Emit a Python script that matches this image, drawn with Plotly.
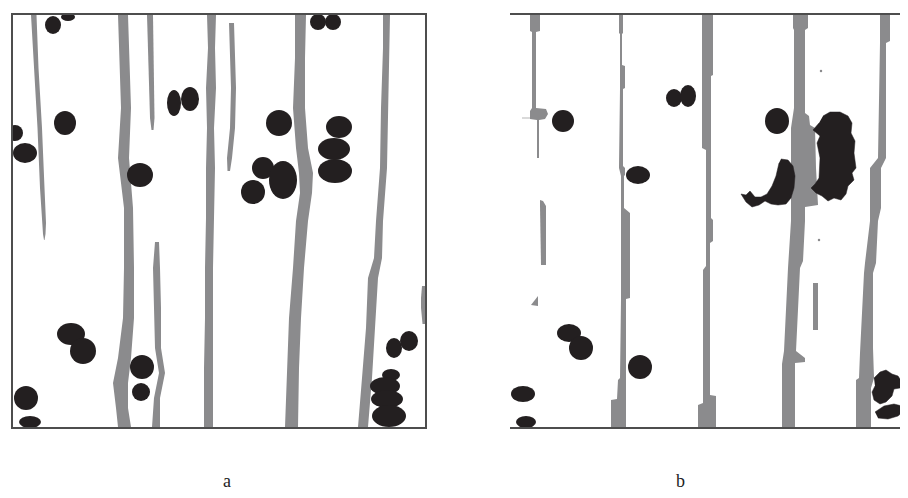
import plotly.graph_objects as go

W, H = 908, 498
GRAY = "#8b8b8d"
BLACK = "#231f20"
BORDER = "#4d4d4d"

# ---------------- panel a : fibre strips (y, left edge, right edge) ----------------
A1_Y = [7, 60, 120, 180, 215, 226, 232]
A1_L = [23, 26, 29.5, 32, 34, 35, 36]
A1_R = [28.5, 30.5, 34, 36.5, 38, 37.5, 36.5]

A2_Y = [7, 60, 100, 150, 200, 260, 310, 350, 375, 400, 419]
A2_L = [110, 112, 113, 110, 116, 116, 115, 110, 105, 108, 110]
A2_R = [120, 122, 123, 121, 125, 126, 126, 123, 120, 120, 123]

A3_Y = [7, 40, 80, 110, 122]
A3_L = [139, 140, 141.5, 142, 143.5]
A3_R = [145, 145, 146, 146.5, 145.5]

A4_Y = [7, 40, 80, 120, 160, 210, 260, 310, 360, 419]
A4_L = [199, 200, 198, 199, 198, 198, 197, 197, 196, 196]
A4_R = [208, 207, 208, 206, 207, 206, 205, 205, 205, 205]

A5_Y = [15, 40, 80, 120, 150, 163]
A5_L = [221, 222, 223, 222, 219, 219.5]
A5_R = [226, 227, 228, 227, 224, 222]

A6_Y = [7, 50, 100, 140, 165, 185, 213, 260, 310, 360, 419]
A6_L = [287, 287, 285, 288, 291, 292, 288, 285, 281, 279, 277]
A6_R = [298, 297, 297, 300, 305, 304, 300, 296, 293, 291, 290]

A7_Y = [7, 40, 100, 160, 213, 250, 270, 320, 370, 419]
A7_L = [375, 375, 373, 372, 368, 366, 360, 358, 354, 350]
A7_R = [382, 381, 380, 379, 375, 374, 370, 367, 364, 360]

A8_Y = [278, 290, 300, 310, 316]
A8_L = [414, 413, 413, 413.5, 414.5]
A8_R = [417, 417, 417, 417, 417]

A9_Y = [234, 260, 300, 340, 365, 390, 419]
A9_L = [147, 145, 146, 147, 151, 146, 144]
A9_R = [151, 152, 153, 153, 157, 152, 152]

STRIPS_A = [(A1_Y, A1_L, A1_R), (A2_Y, A2_L, A2_R), (A3_Y, A3_L, A3_R),
            (A4_Y, A4_L, A4_R), (A5_Y, A5_L, A5_R), (A6_Y, A6_L, A6_R),
            (A7_Y, A7_L, A7_R), (A8_Y, A8_L, A8_R), (A9_Y, A9_L, A9_R)]

# ---------------- panel a : black particles (centre x, centre y, radius x, radius y) ----------------
BLOB_A_X = [45, 60, 57, 7, 17, 166, 182, 132, 310, 325, 271, 331, 326, 327, 255, 275, 245,
            63, 75, 134, 133, 18, 22, 386, 401, 383, 377, 379, 381]
BLOB_A_Y = [17, 9, 115, 125, 145, 95, 91, 167, 14, 14, 115, 119, 141, 163, 160, 172, 184,
            326, 343, 359, 384, 390, 414, 340, 333, 367, 378, 391, 408]
BLOB_A_RX = [8, 7, 11, 8, 12, 7, 9, 13, 8, 8, 13, 13, 16, 17, 11, 14, 12,
             14, 13, 12, 9, 12, 11, 8, 9, 9, 15, 16, 17]
BLOB_A_RY = [9, 4, 12, 8, 10, 13, 12, 12, 8, 8, 13, 11, 11, 12, 11, 19, 12,
             11, 13, 12, 9, 12, 6, 10, 10, 6, 9, 9, 11]

# ---------------- panel b : blocky fibre strips (outline x, outline y) ----------------
B1_X = [522, 532, 532, 528, 528, 538, 540, 537, 531, 531, 529, 529, 522, 522, 524, 524, 522]
B1_Y = [6, 6, 23, 24, 100, 101, 106, 111, 112, 150, 150, 112, 111, 103, 100, 24, 23]

B1L_X = [532, 535, 538, 538, 533, 532]
B1L_Y = [192, 193, 198, 257, 257, 198]

B1T_X = [523, 530, 530]
B1T_Y = [297, 288, 298]

B2_X = [611, 615, 615, 614, 614, 617, 617, 615, 615, 617, 617, 616, 616, 622, 622, 618, 618,
        603, 603, 609, 610, 612, 613, 613, 613, 611, 611, 612, 612, 612, 611]
B2_Y = [6, 6, 25, 26, 57, 58, 80, 81, 158, 160, 167, 168, 200, 205, 290, 291, 419,
        419, 392, 391, 372, 370, 292, 205, 168, 160, 158, 81, 57, 26, 25]

B3_X = [694, 705, 705, 703, 703, 705, 705, 702, 702, 708, 708,
        690, 690, 695, 695, 698, 698, 694]
B3_Y = [6, 6, 67, 68, 210, 212, 233, 235, 387, 388, 419,
        419, 397, 395, 262, 258, 142, 140]

B4_X = [785, 800, 800, 797, 797, 801, 802, 807, 808, 810, 810, 797, 797, 795, 792, 788, 797, 797, 787, 787,
        774, 774, 776, 780, 783, 783, 786, 786, 785]
B4_Y = [6, 6, 20, 22, 105, 108, 117, 120, 160, 190, 197, 199, 213, 253, 260, 343, 350, 354, 355, 419,
        419, 356, 343, 260, 213, 120, 100, 22, 20]

B5_X = [872, 882, 882, 878, 878, 873, 873, 870, 868, 865, 865, 866, 863, 863,
        848, 848, 851, 852, 856, 857, 862, 862, 870, 872]
B5_Y = [6, 6, 33, 35, 150, 160, 200, 213, 255, 265, 340, 370, 380, 419,
        419, 372, 370, 345, 265, 255, 213, 160, 150, 35]

B6_X = [805, 810, 810, 805]
B6_Y = [275, 275, 322, 322]

STRIPS_B = [(B1_X, B1_Y), (B1L_X, B1L_Y), (B1T_X, B1T_Y), (B2_X, B2_Y), (B3_X, B3_Y),
            (B4_X, B4_Y), (B5_X, B5_Y), (B6_X, B6_Y)]

# ---------------- panel b : black particles ----------------
BLOB_B_X = [555, 666, 680, 630, 769, 561, 573, 632, 515, 518]
BLOB_B_Y = [113, 90, 88, 167, 113, 325, 340, 359, 386, 414]
BLOB_B_RX = [11, 8, 8, 12, 12, 12, 12, 12, 12, 10]
BLOB_B_RY = [11, 9, 11, 9, 13, 9, 12, 12, 8, 6]

# irregular particles in panel b (outline x, outline y)
BIG_X = [815, 822, 832, 840, 844, 843, 847, 846, 848, 844, 846, 840, 838, 833, 826, 820, 814, 808, 803,
         807, 811, 812, 809, 812, 805, 811]
BIG_Y = [108, 104, 104, 108, 115, 125, 133, 145, 160, 165, 172, 178, 186, 192, 190, 193, 188, 185, 180,
         176, 170, 150, 135, 128, 122, 115]

CRES_X = [773, 780, 785, 787, 786, 783, 778, 770, 763, 757, 751, 744, 738, 733, 738, 742, 747, 753, 759,
          764, 768, 770, 771]
CRES_Y = [151, 152, 158, 168, 180, 190, 196, 197, 196, 193, 197, 199, 194, 186, 187, 183, 189, 189, 186,
          178, 168, 160, 155]

RB1_X = [866, 872, 878, 884, 890, 894, 892, 886, 884, 878, 872, 866, 864, 867]
RB1_Y = [370, 364, 362, 366, 368, 374, 380, 381, 388, 394, 396, 392, 384, 378]
RB2_X = [867, 876, 886, 894, 897, 890, 880, 870]
RB2_Y = [404, 398, 396, 398, 402, 408, 411, 410]

IRREG_B = [(BIG_X, BIG_Y), (CRES_X, CRES_Y), (RB1_X, RB1_Y), (RB2_X, RB2_Y)]

LABELS = ["a", "b"]
LABEL_X = [213, 679]

fig = go.Figure()

for ys, xl, xr in STRIPS_A:
    fig.add_trace(go.Scatter(x=list(xl) + list(xr)[::-1], y=list(ys) + list(ys)[::-1],
                             fill="toself", fillcolor=GRAY, mode="lines", line=dict(width=0),
                             hoverinfo="skip", showlegend=False, xaxis="x", yaxis="y"))

for xs, ys in STRIPS_B:
    fig.add_trace(go.Scatter(x=xs, y=ys, fill="toself", fillcolor=GRAY, mode="lines",
                             line=dict(width=0), hoverinfo="skip", showlegend=False,
                             xaxis="x2", yaxis="y"))

for xs, ys in IRREG_B:
    fig.add_trace(go.Scatter(x=xs, y=ys, fill="toself", fillcolor=BLACK, mode="lines",
                             line=dict(width=0.5, color=BLACK), hoverinfo="skip", showlegend=False,
                             xaxis="x2", yaxis="y"))

# thin light lines in panel b
fig.add_trace(go.Scatter(x=[514, 522], y=[110, 110], mode="lines", line=dict(width=1, color="#b5b5b5"),
                         hoverinfo="skip", showlegend=False, xaxis="x2", yaxis="y"))
fig.add_trace(go.Scatter(x=[811, 813], y=[232, 63], mode="markers", marker=dict(size=2.5, color=GRAY),
                         hoverinfo="skip", showlegend=False, xaxis="x2", yaxis="y"))

shapes = []
for cx, cy, rx, ry in zip(BLOB_A_X, BLOB_A_Y, BLOB_A_RX, BLOB_A_RY):
    shapes.append(dict(type="circle", xref="x", yref="y", x0=cx - rx, x1=cx + rx, y0=cy - ry, y1=cy + ry,
                       fillcolor=BLACK, line=dict(width=0)))
for cx, cy, rx, ry in zip(BLOB_B_X, BLOB_B_Y, BLOB_B_RX, BLOB_B_RY):
    shapes.append(dict(type="circle", xref="x2", yref="y", x0=cx - rx, x1=cx + rx, y0=cy - ry, y1=cy + ry,
                       fillcolor=BLACK, line=dict(width=0)))

ydom = [1 - 419 / H, 1 - 7 / H]
fig.update_layout(
    width=W, height=H, margin=dict(l=0, r=0, t=0, b=0),
    paper_bgcolor="white", plot_bgcolor="white",
    shapes=shapes,
    xaxis=dict(domain=[5 / W, 417 / W], range=[5, 417], showgrid=False, zeroline=False,
               showticklabels=False, ticks="", showline=True, mirror=True, linecolor=BORDER, linewidth=1.5),
    xaxis2=dict(domain=[502 / W, 1.0], range=[502, 908], showgrid=False, zeroline=False,
                showticklabels=False, ticks="", showline=True, mirror=True, linecolor=BORDER, linewidth=1.5,
                anchor="y"),
    yaxis=dict(domain=ydom, range=[419, 7], showgrid=False, zeroline=False, showticklabels=False,
               ticks="", showline=True, mirror=True, linecolor=BORDER, linewidth=1.5),
    yaxis2=dict(domain=ydom, range=[419, 7], anchor="x2", showgrid=False,
                zeroline=False, showticklabels=False, ticks="", showline=True, mirror=False,
                linecolor=BORDER, linewidth=1.5, visible=True),
    showlegend=False,
)

for lab, lx in zip(LABELS, LABEL_X):
    fig.add_annotation(x=lx / W, y=1 - 485 / H, xref="paper", yref="paper", text=lab, showarrow=False,
                       font=dict(family="Liberation Serif, Times New Roman, serif", size=18, color="#222222"))

fig.write_html("out.html")
